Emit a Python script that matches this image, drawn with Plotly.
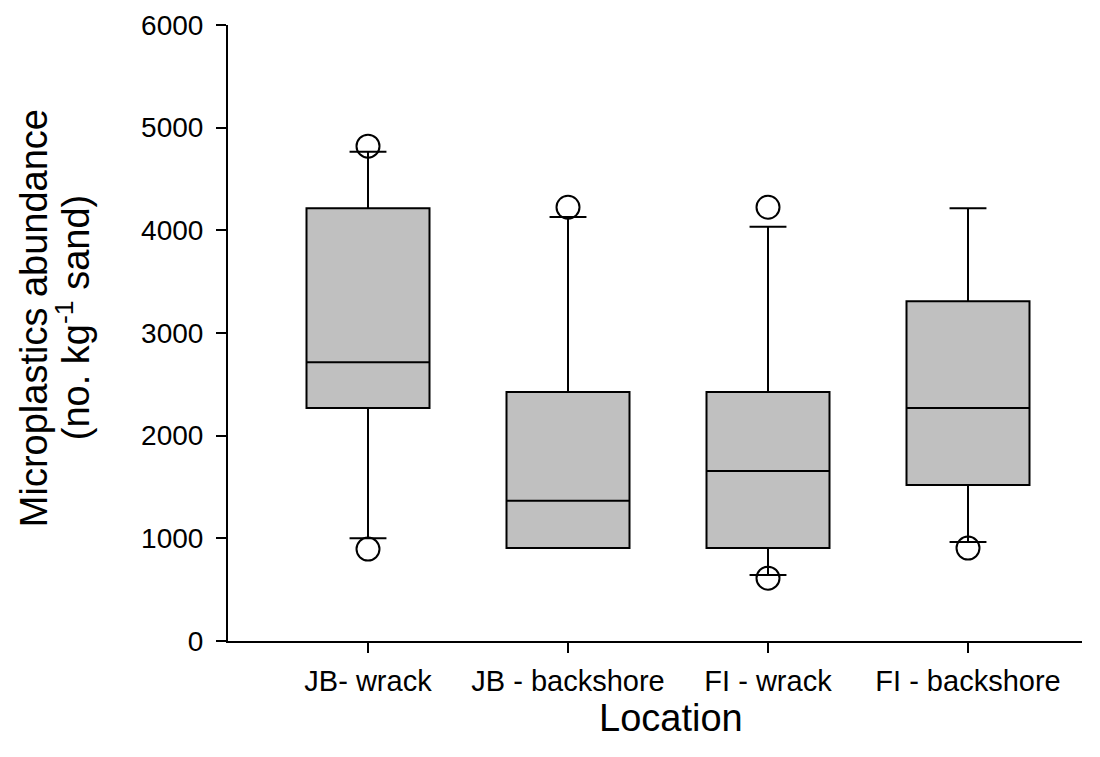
import plotly.graph_objects as go

categories = ["JB- wrack", "JB - backshore", "FI - wrack", "FI - backshore"]
q1 = [2270, 905, 905, 1520]
median = [2715, 1365, 1655, 2270]
q3 = [4215, 2425, 2425, 3310]
lower_fence = [1000, 905, 643, 964]
upper_fence = [4765, 4130, 4035, 4215]

outlier_cats = ["JB- wrack", "JB- wrack", "JB - backshore", "FI - wrack", "FI - wrack", "FI - backshore"]
outlier_vals = [4820, 895, 4225, 4225, 612, 905]

y_ticks = [0, 1000, 2000, 3000, 4000, 5000, 6000]

font_family = "Liberation Sans, Arial, sans-serif"

fig = go.Figure()
fig.add_trace(go.Box(
    x=categories,
    q1=q1, median=median, q3=q3,
    lowerfence=lower_fence, upperfence=upper_fence,
    fillcolor="#c0c0c0",
    line=dict(color="black", width=2),
    width=0.615,
    whiskerwidth=0.3,
    boxpoints=False,
    showlegend=False,
    hoverinfo="y",
))
fig.add_trace(go.Scatter(
    x=outlier_cats, y=outlier_vals,
    mode="markers",
    marker=dict(symbol="circle-open", size=23, color="black", line=dict(width=2, color="black")),
    showlegend=False,
))

fig.update_layout(
    width=1100, height=757,
    margin=dict(l=220, r=26, t=17, b=124),
    plot_bgcolor="white", paper_bgcolor="white",
    font=dict(family=font_family, color="black"),
    xaxis=dict(
        range=[-0.7, 3.57],
        automargin=False,
        showline=True, linecolor="black", linewidth=2,
        ticks="outside", ticklen=10, tickwidth=2, tickcolor="black",
        tickfont=dict(size=29),
        ticklabelstandoff=3,
        showgrid=False, zeroline=False,
    ),
    yaxis=dict(
        range=[0, 6000],
        automargin=False,
        tickvals=y_ticks,
        showline=True, linecolor="black", linewidth=2,
        ticks="outside", ticklen=10, tickwidth=2, tickcolor="black",
        tickfont=dict(size=28),
        ticklabelstandoff=7,
        showgrid=False, zeroline=False,
    ),
    annotations=[
        dict(text="Microplastics abundance", textangle=-90, showarrow=False,
             xref="paper", yref="paper", x=0, y=0.524, xanchor="center", yanchor="middle",
             xshift=-194, font=dict(size=38)),
        dict(text="(no. kg<sup>-1</sup> sand)", textangle=-90, showarrow=False,
             xref="paper", yref="paper", x=0, y=0.524, xanchor="center", yanchor="middle",
             xshift=-155, font=dict(size=38)),
        dict(text="Location", showarrow=False,
             xref="paper", yref="paper", x=0.519, y=0, xanchor="center", yanchor="middle",
             yshift=-77, font=dict(size=38)),
    ],
)

fig.write_html("out.html")
